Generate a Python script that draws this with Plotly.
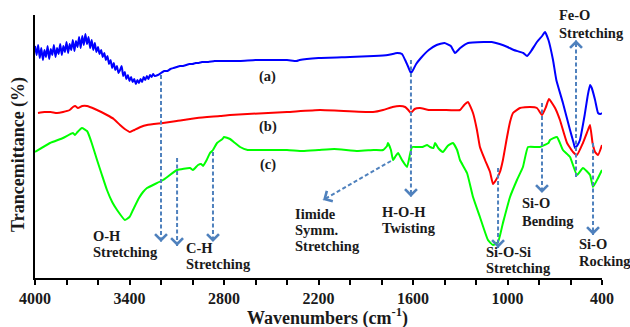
import math
import plotly.graph_objects as go

# ---------------- data ----------------
# (a) blue spectrum
wn_a = [4000, 3990, 3980, 3970, 3960, 3950, 3940, 3930, 3920, 3910, 3900, 3890, 3880, 3870,
        3860, 3850, 3840, 3830, 3820, 3810, 3800, 3790, 3780, 3770, 3760, 3750, 3740, 3730,
        3720, 3710, 3700, 3690, 3680, 3670, 3660, 3650, 3640, 3630, 3620, 3610, 3600, 3590,
        3580, 3570, 3560, 3550, 3540, 3530, 3520, 3510, 3500, 3490, 3480, 3470, 3460, 3450,
        3440, 3430, 3420, 3410, 3400, 3390, 3380, 3370, 3360, 3350, 3340, 3330, 3320, 3310,
        3300, 3290, 3280, 3270, 3260, 3250, 3240, 3220, 3200, 3180, 3160, 3140, 3120, 3100,
        3080, 3060, 3040, 3020, 3000, 2980, 2960, 2940, 2900, 2860, 2800, 2700, 2600, 2500,
        2400, 2340, 2320, 2200, 2000, 1850, 1760, 1700, 1670, 1650, 1630, 1613, 1600, 1580,
        1550, 1500, 1450, 1400, 1360, 1333, 1300, 1250, 1150, 1100, 1050, 1000, 960, 900,
        876, 850, 813, 780, 762, 740, 711, 690, 648, 603, 580, 571, 555, 540, 510, 490,
        476, 465, 444, 425, 410, 400]
t_a = [232, 223, 233, 220, 230, 218, 228, 221, 232, 219, 229, 223, 233, 221,
       230, 224, 234, 223, 232, 226, 236, 225, 234, 228, 238, 227, 237, 231,
       241, 230, 242, 233, 244, 234, 241, 230, 238, 228, 235, 226, 231, 224,
       228, 221, 225, 218, 222, 214, 218, 210, 215, 208, 212, 205, 208, 212,
       202, 206, 199, 203, 197, 201, 196, 199, 194, 198, 195, 199, 196, 201,
       198, 202, 199, 203, 201, 204, 202, 203, 205, 207, 207, 209, 210, 211,
       212, 212, 213, 214, 214, 215, 215, 216, 216, 217, 217, 217, 218, 218,
       218, 217, 218, 220, 221, 222, 223, 225, 224, 218, 211, 205, 208, 214,
       220, 228, 233, 235, 232, 225, 230, 235, 236, 236, 234, 231, 228, 225,
       222, 227, 236, 242, 246, 238, 218, 198, 175, 148, 135, 130, 133, 138, 163, 183,
       193, 190, 178, 165, 164, 165]

# (b) red spectrum
wn_b = [3981, 3940, 3900, 3860, 3822, 3780, 3759, 3745, 3727, 3700, 3670, 3620, 3543, 3500,
        3460, 3430, 3397, 3370, 3330, 3289, 3187, 3100, 2971, 2825, 2762, 2400, 2190, 1854,
        1790, 1730, 1683, 1650, 1630, 1613, 1590, 1556, 1500, 1410, 1302, 1275, 1251, 1219,
        1194, 1175, 1143, 1111, 1092, 1073, 1048, 1029, 1003, 984, 965, 921, 857, 813,
        781, 756, 737, 698, 667, 622, 584, 559, 521, 489, 476, 460, 444, 425, 400]
t_b = [165, 166, 166, 165, 166, 168, 171, 172, 170, 172, 172, 169, 163, 159,
       153, 149, 146, 148, 151, 153, 155, 157, 160, 162, 163, 166, 168, 166,
       168, 171, 172, 171, 168, 165, 169, 170, 168, 168, 168, 173, 176, 165,
       148, 131, 118, 106, 94, 98, 106, 118, 141, 156, 165, 170, 171, 170,
       163, 171, 179, 170, 158, 135, 126, 123, 135, 148, 153, 135, 126, 123, 133]

# (c) green spectrum
wn_c = [4000, 3905, 3822, 3759, 3746, 3730, 3702, 3670, 3663, 3640, 3606, 3575, 3543, 3510,
        3479, 3429, 3400, 3378, 3340, 3314, 3289, 3187, 3098, 3016, 2997, 2965, 2945, 2933,
        2910, 2889, 2870, 2844, 2810, 2800, 2762, 2730, 2698, 2650, 2616, 2400, 2300, 2200,
        2100, 1950, 1850, 1790, 1765, 1759, 1740, 1727, 1710, 1695, 1670, 1638, 1620, 1606,
        1575, 1540, 1510, 1492, 1470, 1460, 1440, 1410, 1380, 1346, 1320, 1302, 1257, 1219,
        1175, 1124, 1092, 1060, 1029, 984, 940, 902, 870, 820, 794, 740, 730, 686,
        648, 603, 559, 521, 476, 457, 425, 400]
t_c = [126, 135, 140, 145, 143, 146, 150, 147, 145, 135, 118, 103, 88, 76,
       68, 58, 61, 68, 80, 86, 90, 98, 108, 110, 108, 113, 114, 112,
       118, 125, 128, 135, 139, 141, 139, 135, 131, 128, 128, 128, 127, 128,
       129, 127, 128, 128, 132, 135, 128, 118, 122, 125, 118, 111, 123, 131,
       131, 131, 133, 131, 130, 135, 130, 126, 132, 135, 128, 118, 105, 81,
       61, 38, 33, 36, 55, 81, 98, 111, 131, 131, 131, 135, 138, 141,
       128, 121, 103, 110, 103, 91, 100, 108]

# dashed assignment arrows: start (wn, T) -> tip (wn, T)
arrow_wn_start = [3200, 3098, 2870, 1740, 1613, 1060, 781, 565, 457]
arrow_t_start = [203, 120, 126, 117, 218, 110, 175, 101, 135]
arrow_wn_tip = [3200, 3098, 2870, 2171, 1613, 1060, 781, 565, 457]
arrow_t_tip = [36, 32, 36, 78, 81, 30, 85, 238, 43]

# band labels (one entry per text line): text, left wavenumber, T
label_text = ["O-H", "Stretching", "C-H", "Stretching", "Iimide", "Symm.", "Stretching",
              "H-O-H", "Twisting", "Si-O-Si", "Stretching", "Si-O", "Bending",
              "Si-O", "Rocking", "Fe-O", "Stretching"]
label_wn = [3644, 3644, 3054, 3054, 2362, 2362, 2362, 1810, 1810, 1149, 1149,
            921, 921, 559, 559, 686, 686]
label_t = [42, 26, 30, 14.5, 64, 48, 32, 66, 50, 26, 10, 75, 57, 34, 17, 263, 245]

series_names = ["(a)", "(b)", "(c)"]
series_label_wn = [2521, 2521, 2521]
series_label_t = [202, 152, 114]

x_ticks = [4000, 3400, 2800, 2200, 1600, 1000, 400]

# ---------------- figure ----------------
FONT = "Liberation Serif"
ARROW_C = "#4f81bd"
TXT_C = "#1a1a1a"
W, H = 630, 327
ML, MR, MT, MB = 35, 28, 15, 49
px_per_wn = (W - ML - MR) / 3600.0
px_per_t = (H - MT - MB) / 263.0

fig = go.Figure()
for wn, t, col in [(wn_a, t_a, "#0000ff"), (wn_b, t_b, "#ff0000"), (wn_c, t_c, "#00ff00")]:
    fig.add_trace(go.Scatter(x=wn, y=t, mode="lines",
                             line=dict(color=col, width=2, shape="spline", smoothing=0.4),
                             hoverinfo="skip", showlegend=False))

annotations = []
for ws, ts, wt, tt in zip(arrow_wn_start, arrow_t_start, arrow_wn_tip, arrow_t_tip):
    fig.add_trace(go.Scatter(x=[ws, wt], y=[ts, tt], mode="lines",
                             line=dict(color=ARROW_C, width=2, dash="4px,2.5px"),
                             hoverinfo="skip", showlegend=False))
    # pixel direction from tip back to start
    dx = -(ws - wt) * px_per_wn
    dy = -(ts - tt) * px_per_t
    n = math.hypot(dx, dy)
    annotations.append(dict(x=wt, y=tt, xref="x", yref="y", text=" ", showarrow=True,
                            ax=dx / n * 6, ay=dy / n * 6, arrowhead=4, arrowsize=1.15,
                            arrowwidth=2, arrowcolor=ARROW_C, font=dict(size=1)))

for txt, w, t in zip(label_text, label_wn, label_t):
    annotations.append(dict(x=w, y=t, xref="x", yref="y", text=txt, showarrow=False,
                            xanchor="left", yanchor="middle",
                            font=dict(family=FONT, size=14.5, color=TXT_C, weight="bold")))

for txt, w, t in zip(series_names, series_label_wn, series_label_t):
    annotations.append(dict(x=w, y=t, xref="x", yref="y", text=txt, showarrow=False,
                            xanchor="center", yanchor="middle",
                            font=dict(family=FONT, size=14.5, color=TXT_C, weight="bold")))

# axis titles
annotations.append(dict(x=(327 - ML) / (W - ML - MR), y=-(317 - (H - MB)) / (H - MT - MB),
                        xref="paper", yref="paper", text="Wavenumbers (cm<sup>-1</sup>)",
                        showarrow=False, xanchor="center", yanchor="middle",
                        font=dict(family=FONT, size=18, color=TXT_C, weight="bold")))
annotations.append(dict(x=(18 - ML) / (W - ML - MR), y=((H - MB) - 155) / (H - MT - MB),
                        xref="paper", yref="paper", text="Trancemittance (%)",
                        showarrow=False, xanchor="center", yanchor="middle", textangle=-90,
                        font=dict(family=FONT, size=18, color=TXT_C, weight="bold")))

fig.update_layout(
    width=W, height=H,
    margin=dict(l=ML, r=MR, t=MT, b=MB),
    paper_bgcolor="white", plot_bgcolor="white",
    showlegend=False,
    annotations=annotations,
    xaxis=dict(range=[4000, 400], autorange=False, tickmode="array", tickvals=x_ticks,
               ticktext=[str(v) for v in x_ticks],
               showline=True, linecolor="black", linewidth=2, ticks="outside", ticklen=5,
               tickwidth=1.5, tickcolor="black", showgrid=False, zeroline=False,
               minor=dict(ticks="outside", tickmode="linear", tick0=400, dtick=200,
                          ticklen=5, tickwidth=1.5, tickcolor="black", showgrid=False),
               tickfont=dict(family=FONT, size=16, color=TXT_C, weight="bold")),
    yaxis=dict(range=[0, 263], autorange=False, showline=True, linecolor="black", linewidth=2,
               ticks="", showticklabels=False, showgrid=False, zeroline=False),
)

fig.write_html("out.html", config={"displayModeBar": False},
               post_script="document.body.style.margin='0';document.body.style.padding='0';")
